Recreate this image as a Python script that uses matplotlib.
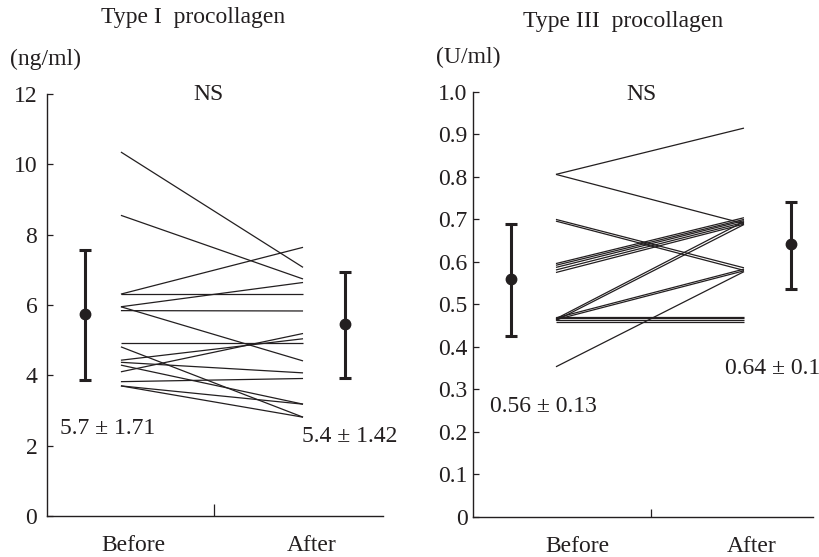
import matplotlib
matplotlib.use("Agg")
import matplotlib.pyplot as plt

plt.rcParams['font.family'] = ['Liberation Serif', 'DejaVu Serif']

INK = '#231f20'

# Type I procollagen (ng/ml), one line per subject
t1_before = [10.35, 8.55, 6.31, 6.31, 5.95, 5.95, 5.84, 4.93,
             4.81, 4.43, 4.37, 4.29, 4.10, 3.82, 3.70, 3.70]
t1_after = [7.07, 6.74, 7.64, 6.31, 6.64, 4.41, 5.83, 4.93,
            2.81, 5.04, 4.07, 3.18, 5.19, 3.91, 3.18, 2.81]
t1_mean = [5.73, 5.47]
t1_low = [3.87, 3.93]
t1_high = [7.55, 6.95]
t1_yticks = [0, 2, 4, 6, 8, 10, 12]

# Type III procollagen (U/ml)
t3_before = [0.806, 0.806, 0.700, 0.696, 0.596, 0.592, 0.587, 0.581, 0.575,
             0.466, 0.462, 0.468, 0.464, 0.353, 0.471, 0.467, 0.463, 0.459]
t3_after = [0.915, 0.690, 0.586, 0.580, 0.704, 0.700, 0.697, 0.693, 0.689,
            0.695, 0.688, 0.583, 0.579, 0.577, 0.471, 0.467, 0.463, 0.459]
t3_mean = [0.56, 0.643]
t3_low = [0.425, 0.537]
t3_high = [0.69, 0.742]
t3_yticks = [0, 0.1, 0.2, 0.3, 0.4, 0.5, 0.6, 0.7, 0.8, 0.9, 1.0]
t3_yticklabels = ['0', '0.1', '0.2', '0.3', '0.4', '0.5', '0.6', '0.7', '0.8', '0.9', '1.0']

groups = ['Before', 'After']

W, H = 819, 557
fig = plt.figure(figsize=(W / 100, H / 100), dpi=100)


def px(x, y):
    return x / W, 1 - y / H


def panel(rect, before, after, mean, low, high, yticks, yticklabels, ymax,
          line_x, bar_x, label_x, mid_x, mid_len, ypad, xpad):
    ax = fig.add_axes(rect)
    for b, a in zip(before, after):
        ax.plot(line_x, [b, a], color=INK, lw=0.9, solid_capstyle='butt')
    for i in range(2):
        ax.errorbar(bar_x[i], mean[i],
                    yerr=[[mean[i] - low[i]], [high[i] - mean[i]]],
                    fmt='o', color=INK, ms=7.5, elinewidth=2.2,
                    capsize=4.5, capthick=2.2)
    ax.set_xlim(0, 1)
    ax.set_ylim(0, ymax)
    for s in ['top', 'right']:
        ax.spines[s].set_visible(False)
    for s in ['left', 'bottom']:
        ax.spines[s].set_color(INK)
        ax.spines[s].set_linewidth(1.0)
    ax.set_yticks(yticks)
    ax.set_yticklabels(yticklabels)
    ax.tick_params(axis='y', direction='in', length=4.5, width=0.9,
                   color=INK, labelsize=17, labelcolor=INK, pad=ypad)
    ax.set_xticks(label_x)
    ax.set_xticklabels(groups)
    ax.tick_params(axis='x', which='major', length=0, labelsize=17,
                   labelcolor=INK, pad=xpad)
    ax.set_xticks([mid_x], minor=True)
    ax.tick_params(axis='x', which='minor', direction='in', length=mid_len,
                   width=0.9, color=INK)
    return ax


panel([47 / W, 1 - 516 / H, 336 / W, 422 / H], t1_before, t1_after,
      t1_mean, t1_low, t1_high, t1_yticks, [str(v) for v in t1_yticks], 12,
      [0.220, 0.762], [0.113, 0.887], [0.256, 0.789], 0.497, 9, 7, 14)

panel([473 / W, 1 - 516.7 / H, 340 / W, 424.7 / H], t3_before, t3_after,
      t3_mean, t3_low, t3_high, t3_yticks, t3_yticklabels, 1.0,
      [0.244, 0.797], [0.112, 0.935], [0.306, 0.821], 0.523, 5.5, 4, 14)

fs = 17
fig.text(*px(193, 18), 'Type I  procollagen', ha='center', va='center', fontsize=fs, color=INK)
fig.text(*px(10, 59), '(ng/ml)', ha='left', va='center', fontsize=fs, color=INK)
fig.text(*px(208, 95), 'NS', ha='center', va='center', fontsize=fs, color=INK)
fig.text(*px(60, 429), '5.7 ± 1.71', ha='left', va='center', fontsize=fs, color=INK)
fig.text(*px(302, 437), '5.4 ± 1.42', ha='left', va='center', fontsize=fs, color=INK)

fig.text(*px(623, 22), 'Type III  procollagen', ha='center', va='center', fontsize=fs, color=INK)
fig.text(*px(436, 57), '(U/ml)', ha='left', va='center', fontsize=fs, color=INK)
fig.text(*px(641, 95), 'NS', ha='center', va='center', fontsize=fs, color=INK)
fig.text(*px(490, 406), '0.56 ± 0.13', ha='left', va='center', fontsize=fs, color=INK)
fig.text(*px(725, 368), '0.64 ± 0.1', ha='left', va='center', fontsize=fs, color=INK)

fig.savefig('out.png', dpi=100, facecolor='white')
